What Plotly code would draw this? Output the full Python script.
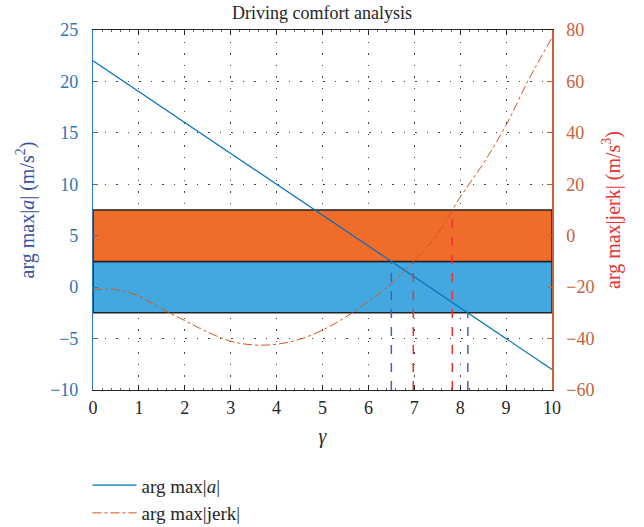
import numpy as np
import plotly.graph_objects as go

# ---- data ----
gamma_a = [0, 10]
acc_max = [22, -8]

gamma_j = [0, 0.5, 1, 1.5, 2, 2.5, 3, 3.5, 4, 4.5, 5, 5.5, 6, 6.5, 7, 7.5, 8, 8.5, 9, 9.5, 10]
jerk_max = [-21, -21, -23.5, -28.5, -33, -37.5, -41, -42.5, -42.2, -40.3, -36.7, -31.7,
            -25.5, -18.6, -9.6, 0.5, 15, 28, 43, 61, 77]

acc_limits = [-2.5, 2.5]
jerk_limits = [-10, 10]

x_ticks = list(range(0, 11))
y_ticks = [-10, -5, 0, 5, 10, 15, 20, 25]
y2_ticks = [-60, -40, -20, 0, 20, 40, 60, 80]

Y_RANGE = [-10, 25]
Y2_RANGE = [-60, 80]

BLUE = "#0072BD"
ORANGE = "#D95319"
AXBLUE = "#2E75B6"
AXORANGE = "#C8603A"
FONT = "Liberation Serif"


def j_to_y(v):
    # map a right-axis value onto the left axis scale
    return Y_RANGE[0] + (v - Y2_RANGE[0]) * (Y_RANGE[1] - Y_RANGE[0]) / (Y2_RANGE[1] - Y2_RANGE[0])


# crossings derived from the data
ga = np.array(gamma_a, float); aa = np.array(acc_max, float)
acc_cross = [float(np.interp(v, aa[::-1], ga[::-1])) for v in acc_limits[::-1]]  # a=2.5, a=-2.5
gj = np.array(gamma_j, float); jj = np.array(jerk_max, float)
k = int(np.argmin(jj))
jerk_cross = [float(np.interp(v, jj[k:], gj[k:])) for v in jerk_limits]

fig = go.Figure()

# bands
fig.add_shape(type="rect", xref="x", yref="y", x0=0, x1=10, y0=acc_limits[0], y1=acc_limits[1],
              fillcolor="#42A8DF", line=dict(color="#222222", width=1.5), layer="between")
fig.add_shape(type="rect", xref="x", yref="y", x0=0, x1=10,
              y0=j_to_y(jerk_limits[0]), y1=j_to_y(jerk_limits[1]),
              fillcolor="#F06C2A", line=dict(color="#222222", width=1.5), layer="between")

# vertical dashed markers
for gx, lim in zip(acc_cross, acc_limits[::-1]):
    fig.add_trace(go.Scatter(x=[gx, gx], y=[Y_RANGE[0], lim], mode="lines", yaxis="y",
                             line=dict(color="#4A5FB0", width=1.5, dash="dash"),
                             showlegend=False, hoverinfo="skip"))
for gx, lim in zip(jerk_cross, jerk_limits):
    fig.add_trace(go.Scatter(x=[gx, gx], y=[Y2_RANGE[0], lim], mode="lines", yaxis="y2",
                             line=dict(color="#F03030", width=1.5, dash="dash"),
                             showlegend=False, hoverinfo="skip"))

fig.add_trace(go.Scatter(x=gamma_j, y=jerk_max, mode="lines", yaxis="y2",
                         line=dict(color=ORANGE, width=1, dash="dashdot", shape="spline"),
                         name="arg max|jerk|", legendrank=2))
fig.add_trace(go.Scatter(x=gamma_a, y=acc_max, mode="lines", yaxis="y",
                         line=dict(color=BLUE, width=1.2),
                         name="arg max|<i>a</i>|", legendrank=1))

GRID = dict(showgrid=True, gridcolor="#444444", griddash="1.5px,10px", gridwidth=1)

fig.update_layout(
    width=644, height=527,
    margin=dict(l=93, r=92, t=30, b=137, autoexpand=False),
    paper_bgcolor="white", plot_bgcolor="white",
    font=dict(family=FONT, size=16, color="#262626"),
    title=dict(text="Driving comfort analysis", x=0.5, xanchor="center",
               y=1 - 13 / 527, yanchor="middle", automargin=False,
               font=dict(family=FONT, size=18, color="#262626")),
    xaxis=dict(range=[0, 10], tickvals=x_ticks, showline=True, linecolor="#262626", linewidth=1,
               mirror="ticks", ticks="inside", ticklen=5, tickcolor="#262626",
               zeroline=False, tickfont=dict(family=FONT, size=18, color="#262626"),
               ticklabelstandoff=1, automargin=False,
               minor=dict(dtick=0.2, ticks="inside", ticklen=2, tickcolor="#666666", showgrid=False),
               title=dict(text="<i>γ</i>", font=dict(family=FONT, size=20), standoff=12),
               **GRID),
    yaxis=dict(range=Y_RANGE, tickvals=y_ticks, showline=True, linecolor=AXBLUE, linewidth=1.2,
               ticks="inside", ticklen=5, tickcolor=AXBLUE,
               zeroline=False, tickfont=dict(family=FONT, size=18, color=AXBLUE),
               ticklabelstandoff=10, automargin=False,
               title=dict(text="arg max|<i>a</i>| (m/s<sup>2</sup>)",
                          font=dict(family=FONT, size=20, color="#3A50A0"), standoff=10),
               **GRID),
    yaxis2=dict(range=Y2_RANGE, tickvals=y2_ticks, overlaying="y", side="right",
                showline=True, linecolor=AXORANGE, linewidth=1.5,
                ticks="inside", ticklen=5, tickcolor=AXORANGE, showgrid=False, zeroline=False,
                tickfont=dict(family=FONT, size=18, color=AXORANGE),
                ticklabelstandoff=9, automargin=False,
                title=dict(text="arg max|jerk| (m/s<sup>3</sup>)",
                           font=dict(family=FONT, size=20, color="#E83030"), standoff=12)),
    legend=dict(x=-0.012, xanchor="left", y=-0.212, yanchor="top", bgcolor="rgba(0,0,0,0)",
                font=dict(family=FONT, size=19, color="#262626"), tracegroupgap=0,
                itemwidth=44),
    showlegend=True,
)

fig.write_html("out.html", config={"displayModeBar": False},
               post_script="document.body.style.margin='0px';")
